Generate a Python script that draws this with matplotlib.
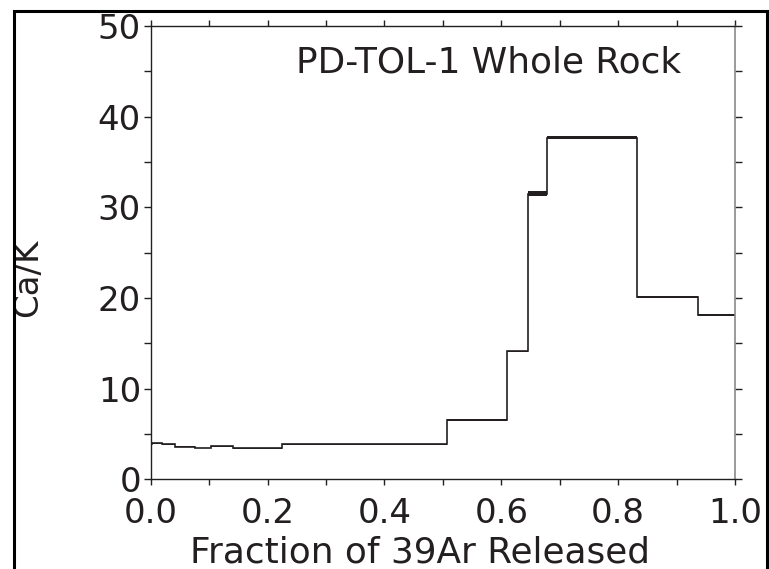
import matplotlib
matplotlib.use("Agg")
import matplotlib.pyplot as plt
import numpy as np
from matplotlib.patches import Rectangle
from matplotlib.ticker import MultipleLocator

# step edges (cumulative fraction of 39Ar) and Ca/K for each step
fracEdges = [0.0, 0.003, 0.019, 0.042, 0.075, 0.103, 0.140, 0.224,
             0.507, 0.609, 0.645, 0.678, 0.832, 0.936, 1.0]
caK = [3.85, 3.97, 3.89, 3.60, 3.45, 3.67, 3.42, 3.86,
       6.54, 14.1, 31.5, 37.7, 20.07, 18.1]
caKErr = [0.20, 0.06, 0.05, 0.05, 0.05, 0.05, 0.05, 0.05,
          0.06, 0.10, 0.30, 0.20, 0.10, 0.08]

sampleName = "PD-TOL-1 Whole Rock"
xTitle = "Fraction of 39Ar Released"
yTitle = "Ca/K"


class caKSpectrum():
    '''
    Ca/K release spectrum, drawn as a step plot with error boxes
    '''
    def __init__(self):
        self.edges = np.array(fracEdges)
        self.vals = np.array(caK)
        self.errs = np.array(caKErr)
        self.ink = "#231f20"
        self.fsize = 24.5
        self.bigsize = 25.8

    def doStuff(self):
        # the original lettering is a wide sans, DejaVu is the closest fit
        plt.rcParams['font.family'] = ['DejaVu Sans']

        fig = plt.figure(figsize=(7.69, 5.69), dpi=100)
        ax = fig.add_axes([0.196, 0.1576, 0.7598, 0.7967])

        # error boxes, then the step line itself
        lo = np.append(self.vals - self.errs, self.vals[-1] - self.errs[-1])
        hi = np.append(self.vals + self.errs, self.vals[-1] + self.errs[-1])
        ax.fill_between(self.edges, lo, hi, step='post', color=self.ink, lw=0)
        ax.stairs(self.vals, self.edges, baseline=None, color=self.ink, lw=1.2)

        ax.set_xlim(0, 1.0)
        ax.set_ylim(0, 50)
        ax.xaxis.set_major_locator(MultipleLocator(0.2))
        ax.xaxis.set_minor_locator(MultipleLocator(0.1))
        ax.yaxis.set_major_locator(MultipleLocator(10))
        ax.yaxis.set_minor_locator(MultipleLocator(5))
        ax.xaxis.set_major_formatter(plt.FormatStrFormatter('%.1f'))

        ax.tick_params(which='both', direction='out', top=True, right=True,
                       color=self.ink, width=1.0, labelsize=self.fsize,
                       labelcolor=self.ink)
        ax.tick_params(axis='x', which='both', length=4, pad=9)
        ax.tick_params(axis='y', which='both', length=5, pad=2)

        for s in ['left', 'bottom', 'top']:
            ax.spines[s].set_color(self.ink)
            ax.spines[s].set_linewidth(1.0)
        ax.spines['right'].set_color('#8a8a8a')
        ax.spines['right'].set_linewidth(1.2)

        ax.text(0.579, 44.9, sampleName, ha='center', va='baseline',
                fontsize=self.bigsize, color=self.ink)
        ax.text(-0.21, 0.444, yTitle, rotation=90, ha='center', va='center',
                transform=ax.transAxes, fontsize=self.fsize, color=self.ink)
        ax.text(0.461, -0.184, xTitle, ha='center', va='baseline',
                transform=ax.transAxes, fontsize=self.bigsize, color=self.ink)

        # outer frame round the whole figure, bottom edge off the page
        fig.add_artist(Rectangle((0.0182, -0.1), 0.9792, 1.0807,
                                 transform=fig.transFigure, fill=False,
                                 ec='black', lw=2.2))

        fig.savefig("out.png", dpi=100)


if __name__ == "__main__":
    p = caKSpectrum()
    p.doStuff()
